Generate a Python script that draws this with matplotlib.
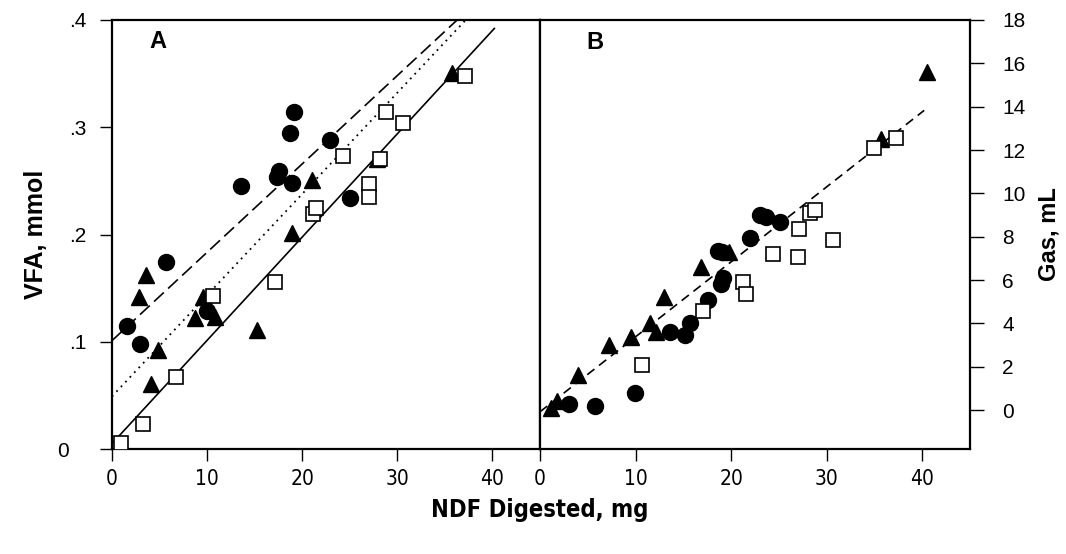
import numpy as np
import matplotlib
matplotlib.use("Agg")
import matplotlib.pyplot as plt
from matplotlib.transforms import ScaledTranslation

plt.rcParams['font.family'] = ['Liberation Sans', 'DejaVu Sans']

# Panel A: VFA (mmol) vs NDF digested (mg)
a_circle_x = [1.6, 2.9, 5.7, 10.0, 13.6, 17.6, 17.3, 18.9, 18.7, 19.1, 22.9, 25.0]
a_circle_y = [0.115, 0.098, 0.174, 0.129, 0.245, 0.259, 0.254, 0.248, 0.295, 0.314, 0.288, 0.234]
a_tri_x = [3.6, 2.8, 4.8, 4.1, 8.7, 9.6, 10.0, 10.8, 15.3, 18.9, 21.0, 27.9, 35.7]
a_tri_y = [0.162, 0.142, 0.092, 0.061, 0.122, 0.142, 0.135, 0.123, 0.111, 0.201, 0.251, 0.270, 0.351]
a_sq_x = [1.0, 3.3, 6.7, 10.6, 17.1, 21.1, 21.5, 24.3, 27.0, 27.0, 28.2, 28.8, 30.6, 37.1]
a_sq_y = [0.006, 0.023, 0.067, 0.143, 0.156, 0.219, 0.225, 0.273, 0.247, 0.235, 0.270, 0.314, 0.304, 0.348]

# regression lines for panel A (intercept, slope)
a_dash_fit = (0.101, 0.00824)
a_dot_fit = (0.049, 0.00944)
a_solid_fit = (0.005, 0.00963)

# Panel B: gas (mL) vs NDF digested (mg)
b_circle_x = [3.0, 5.7, 9.9, 13.6, 15.2, 15.7, 17.6, 18.9, 19.1, 18.6, 19.0, 22.0, 23.0, 23.6, 25.1]
b_circle_y = [0.3, 0.2, 0.8, 3.6, 3.45, 4.0, 5.1, 5.8, 6.1, 7.35, 7.3, 7.95, 9.0, 8.9, 8.7]
b_tri_x = [1.1, 1.8, 4.0, 7.2, 9.5, 11.5, 12.1, 13.0, 16.8, 19.8, 35.7, 40.5]
b_tri_y = [0.1, 0.4, 1.6, 3.0, 3.35, 4.0, 3.6, 5.2, 6.6, 7.3, 12.5, 15.6]
b_sq_x = [10.7, 17.1, 21.2, 21.6, 24.4, 27.0, 27.1, 28.3, 28.8, 30.7, 35.0, 37.2]
b_sq_y = [2.1, 4.55, 5.9, 5.35, 7.2, 7.05, 8.35, 9.1, 9.25, 7.85, 12.1, 12.55]
b_dash_fit = (-0.08, 0.346)

fit_x = [0, 40.2]
narrow = ['Liberation Sans Narrow', 'DejaVu Sans']


def draw_points(ax, cx, cy, tx, ty, sx, sy):
    ax.plot(cx, cy, 'o', color='black', ms=11.5, zorder=3)
    ax.plot(tx, ty, '^', color='black', ms=11.5, zorder=3)
    ax.plot(sx, sy, 's', mfc='white', mec='black', mew=1.2, ms=10, zorder=4)


def fit_line(ax, fit, **kw):
    b0, b1 = fit
    xs = np.array(fit_x)
    ax.plot(xs, b0 + b1 * xs, color='black', **kw)


def style_axis(ax):
    for s in ax.spines.values():
        s.set_linewidth(1.6)
    ax.set_xlim(0, 45)
    ax.set_xticks([0, 10, 20, 30, 40])
    ax.tick_params(axis='x', direction='out', length=8.5, width=1, pad=6)
    for lab in ax.get_xticklabels():
        lab.set_family(narrow)
        lab.set_stretch('condensed')
        lab.set_fontsize(15)


fig = plt.figure(figsize=(10.66, 5.54), dpi=100)
axA = fig.add_axes([0.105, 0.1895, 0.4016, 0.7744])
axB = fig.add_axes([0.5066, 0.1895, 0.4034, 0.7744])

# panel A
draw_points(axA, a_circle_x, a_circle_y, a_tri_x, a_tri_y, a_sq_x, a_sq_y)
fit_line(axA, a_dash_fit, lw=1.2, dashes=(8, 3.5))
fit_line(axA, a_dot_fit, lw=1.3, dashes=(1, 2.6))
fit_line(axA, a_solid_fit, lw=1.2)
axA.set_ylim(0, 0.4)
axA.set_yticks([0, 0.1, 0.2, 0.3, 0.4])
axA.set_yticklabels(['0', '.1', '.2', '.3', '.4'], fontsize=15)
axA.tick_params(axis='y', direction='out', length=8.5, width=1, pad=10)
style_axis(axA)
# the zero label sits further left than the decimal labels
zero_lab = axA.get_yticklabels()[0]
zero_lab.set_transform(zero_lab.get_transform() + ScaledTranslation(-0.17, 0, fig.dpi_scale_trans))
axA.set_ylabel('VFA, mmol', fontsize=18, fontweight='bold', labelpad=7)
axA.text(0.107, 0.949, 'A', transform=axA.transAxes, fontsize=17,
         fontweight='bold', ha='center', va='center')

# panel B
draw_points(axB, b_circle_x, b_circle_y, b_tri_x, b_tri_y, b_sq_x, b_sq_y)
fit_line(axB, b_dash_fit, lw=1.2, dashes=(5.5, 3.5))
axB.set_ylim(-1.8, 18)
axB.set_yticks(range(0, 19, 2))
axB.yaxis.tick_right()
axB.yaxis.set_label_position('right')
axB.tick_params(axis='y', direction='out', length=10, width=1, pad=13, labelsize=15)
style_axis(axB)
axB.set_ylabel('Gas, mL', fontsize=17, fontweight='bold', labelpad=9)
axB.text(0.128, 0.947, 'B', transform=axB.transAxes, fontsize=17,
         fontweight='bold', ha='center', va='center')

fig.text(0.5066, 0.08, 'NDF Digested, mg', fontsize=17, fontweight='bold',
         family=narrow, stretch='condensed', ha='center', va='center')

fig.savefig('out.png', dpi=100)
